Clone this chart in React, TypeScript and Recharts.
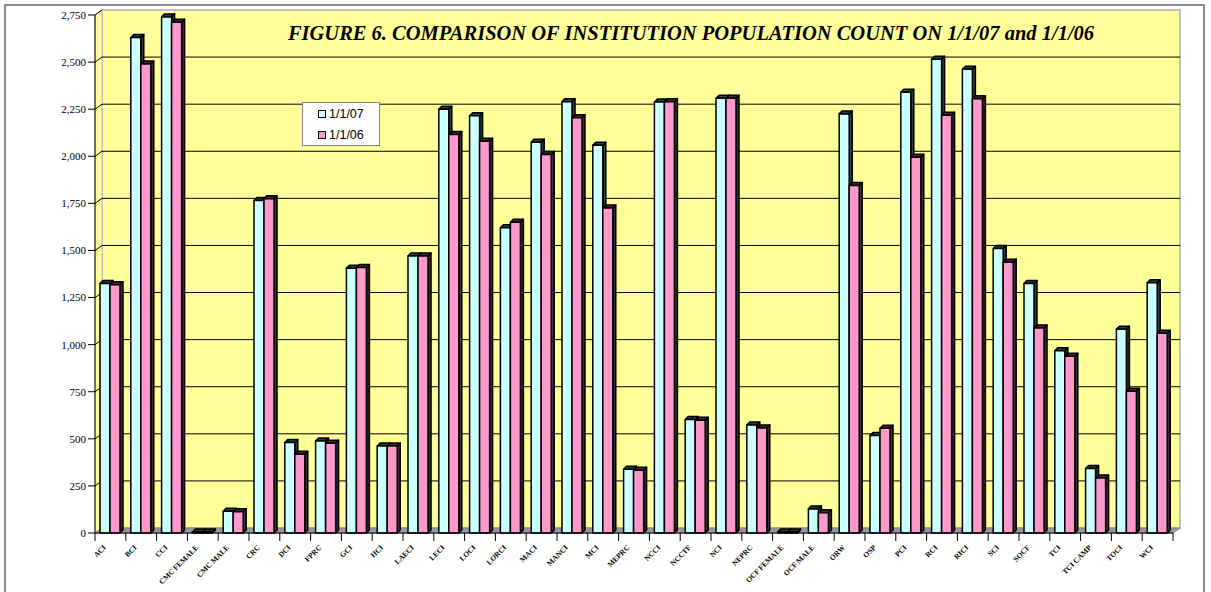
import React from 'react';
import { BarChart, Bar, XAxis, YAxis, CartesianGrid, Legend } from 'recharts';

const institutions = [
  'ACI', 'BCI', 'CCI', 'CMC FEMALE', 'CMC MALE', 'CRC', 'DCI', 'FPRC', 'GCI', 'HCI',
  'LAECI', 'LECI', 'LOCI', 'LORCI', 'MACI', 'MANCI', 'MCI', 'MEPRC', 'NCCI', 'NCCTF',
  'NCI', 'NEPRC', 'OCF FEMALE', 'OCF MALE', 'ORW', 'OSP', 'PCI', 'RCI', 'RICI', 'SCI',
  'SOCF', 'TCI', 'TCI CAMP', 'TOCI', 'WCI',
];
const pop2007 = [
  1325, 2630, 2740, 5, 115, 1765, 480, 488, 1405, 462,
  1470, 2250, 2215, 1620, 2075, 2290, 2058, 338, 2288, 603,
  2308, 573, 5, 128, 2225, 518, 2340, 2515, 2462, 1510,
  1325, 968, 342, 1082, 1328,
];
const pop2006 = [
  1318, 2490, 2712, 5, 113, 1775, 418, 477, 1410, 462,
  1470, 2115, 2080, 1650, 2010, 2205, 1725, 333, 2290, 598,
  2308, 558, 5, 108, 1845, 556, 1995, 2218, 2305, 1438,
  1088, 938, 292, 752, 1060,
];
const yTicks = [0, 250, 500, 750, 1000, 1250, 1500, 1750, 2000, 2250, 2500, 2750];
const seriesNames = ['1/1/07', '1/1/06'];
const title = 'FIGURE 6. COMPARISON OF INSTITUTION POPULATION COUNT ON 1/1/07 and 1/1/06';

const data = institutions.map((name, i) => ({ name, y07: pop2007[i], y06: pop2006[i] }));

const SERIF = '"Liberation Serif", "Times New Roman", serif';
const SANS = '"Liberation Sans", Arial, sans-serif';
const DX = 7; // 3d depth of the walls
const DY = 5;
const WALL = '#FFFF99';

// bar with a little 3d cap and side face
function Bar3D(props: any) {
  const { x, y, width: w, height: h, fill, side } = props;
  if (x == null || w == null) return null;
  const d = 3;
  return (
    <g stroke="#000" strokeWidth={1.5} strokeLinejoin="round">
      <polygon points={`${x + w},${y} ${x + w + d},${y - d} ${x + w + d},${y + h - d} ${x + w},${y + h}`} fill={side} />
      <polygon points={`${x},${y} ${x + d},${y - d} ${x + w + d},${y - d} ${x + w},${y}`} fill={side} />
      <rect x={x} y={y} width={w} height={h} fill={fill} />
    </g>
  );
}

// back wall, side wall, floor and the grid lines drawn on the back wall
const gridLine = (p: any) => {
  const { x, y, width, height, y1, index } = p;
  const bottom = y + height;
  const right = x + width;
  const isBottom = Math.abs(y1 - bottom) < 0.5;
  const isTop = Math.abs(y1 - y) < 0.5;
  return (
    <g key={`gl-${index}`}>
      {index === 0 && (
        <g>
          <rect x={x + DX} y={y - DY} width={width} height={height} fill={WALL} stroke="#c0c0c0" strokeWidth={2} />
          <polygon points={`${x},${y} ${x + DX},${y - DY} ${x + DX},${bottom - DY} ${x},${bottom}`} fill={WALL} stroke="#c0c0c0" strokeWidth={1} />
          <polygon points={`${x},${bottom} ${x + DX},${bottom - DY} ${right + DX},${bottom - DY} ${right},${bottom}`} fill="#9a9a9a" stroke="#808080" strokeWidth={1} />
        </g>
      )}
      {!isBottom && !isTop && (
        <polyline points={`${x},${y1} ${x + DX},${y1 - DY} ${right + DX},${y1 - DY}`} fill="none" stroke="#000" strokeWidth={1} />
      )}
      {isTop && <line x1={x} y1={y1} x2={x + DX} y2={y1 - DY} stroke="#000" strokeWidth={1} />}
    </g>
  );
};

// boundary tick marks + category label turned 45°
function XTick(props: any) {
  const { x, y, payload, index } = props;
  const off = payload.offset ?? 1078 / institutions.length / 2;
  const ax = x - 4;
  const ay = y + 15;
  return (
    <g>
      <line x1={x - off} y1={y} x2={x - off} y2={y + 8} stroke="#000" />
      {index === institutions.length - 1 && <line x1={x + off} y1={y} x2={x + off} y2={y + 8} stroke="#000" />}
      <text
        x={ax}
        y={ay}
        textAnchor="end"
        fontSize={7.5}
        fontWeight="bold"
        fontFamily={SERIF}
        fill="#000"
        style={{ transform: 'rotate(-45deg)', transformOrigin: `${ax}px ${ay}px`, transformBox: 'view-box' }}
      >
        {payload.value}
      </text>
    </g>
  );
}

function LegendBox({ payload }: any) {
  const items = [...(payload || [])].sort(
    (a: any, b: any) => seriesNames.indexOf(a.value) - seriesNames.indexOf(b.value),
  );
  return (
    <div
      style={{
        width: 78,
        height: 44,
        background: '#fff',
        border: '1px solid #808080',
        boxSizing: 'border-box',
        paddingTop: 0,
        paddingLeft: 15,
        fontFamily: SANS,
        fontSize: 12.5,
        color: '#000',
      }}
    >
      {items.map((e: any) => (
        <div key={e.value} style={{ display: 'flex', alignItems: 'center', height: 21 }}>
          <span style={{ width: 6, height: 6, background: e.color, border: '1.5px solid #000', marginRight: 3 }} />
          {e.value}
        </div>
      ))}
    </div>
  );
}

export default function App() {
  return (
    <div style={{ position: 'absolute', left: 0, top: 0, width: 1211, height: 592, overflow: 'hidden', background: '#fff' }}>
      <div
        style={{
          position: 'absolute',
          left: 4,
          top: 4,
          width: 1201,
          height: 620,
          border: '2px solid #8c8c8c',
          boxSizing: 'border-box',
        }}
      />
      <div style={{ position: 'absolute', left: 0, top: 0 }}>
        <BarChart
          width={1211}
          height={592}
          data={data}
          margin={{ top: 15, right: 38, bottom: 0, left: 0 }}
          barGap={0}
          barSize={10}
        >
          <CartesianGrid vertical={false} horizontal={gridLine} fill="none" stroke="none" />
          <XAxis
            dataKey="name"
            interval={0}
            height={59}
            tickLine={false}
            tickSize={0}
            tickMargin={0}
            axisLine={{ stroke: '#000', strokeWidth: 1 }}
            tick={<XTick />}
          />
          <YAxis
            width={95}
            domain={[0, 2750]}
            ticks={yTicks}
            interval={0}
            tickSize={7}
            tickMargin={2}
            tickFormatter={(v: number) => v.toLocaleString('en-US')}
            axisLine={{ stroke: '#000', strokeWidth: 1 }}
            tickLine={{ stroke: '#000', strokeWidth: 1 }}
            tick={{ fill: '#000', fontSize: 11, fontFamily: SERIF }}
          />
          <Legend
            layout="vertical"
            align="center"
            verticalAlign="middle"
            wrapperStyle={{ left: 302, top: 102, width: 78, height: 44 }}
            content={<LegendBox />}
          />
          <Bar
            dataKey="y07"
            name={seriesNames[0]}
            fill="#CCFFFF"
            isAnimationActive={false}
            shape={(p: any) => <Bar3D {...p} side="#2f4040" />}
          />
          <Bar
            dataKey="y06"
            name={seriesNames[1]}
            fill="#FF99CC"
            isAnimationActive={false}
            shape={(p: any) => <Bar3D {...p} side="#402a35" />}
          />
        </BarChart>
      </div>
      <div
        style={{
          position: 'absolute',
          left: 0,
          width: 1382,
          top: 22,
          textAlign: 'center',
          fontFamily: SERIF,
          fontWeight: 'bold',
          fontStyle: 'italic',
          fontSize: 20.5,
          color: '#000',
          whiteSpace: 'nowrap',
          pointerEvents: 'none',
        }}
      >
        {title}
      </div>
    </div>
  );
}
